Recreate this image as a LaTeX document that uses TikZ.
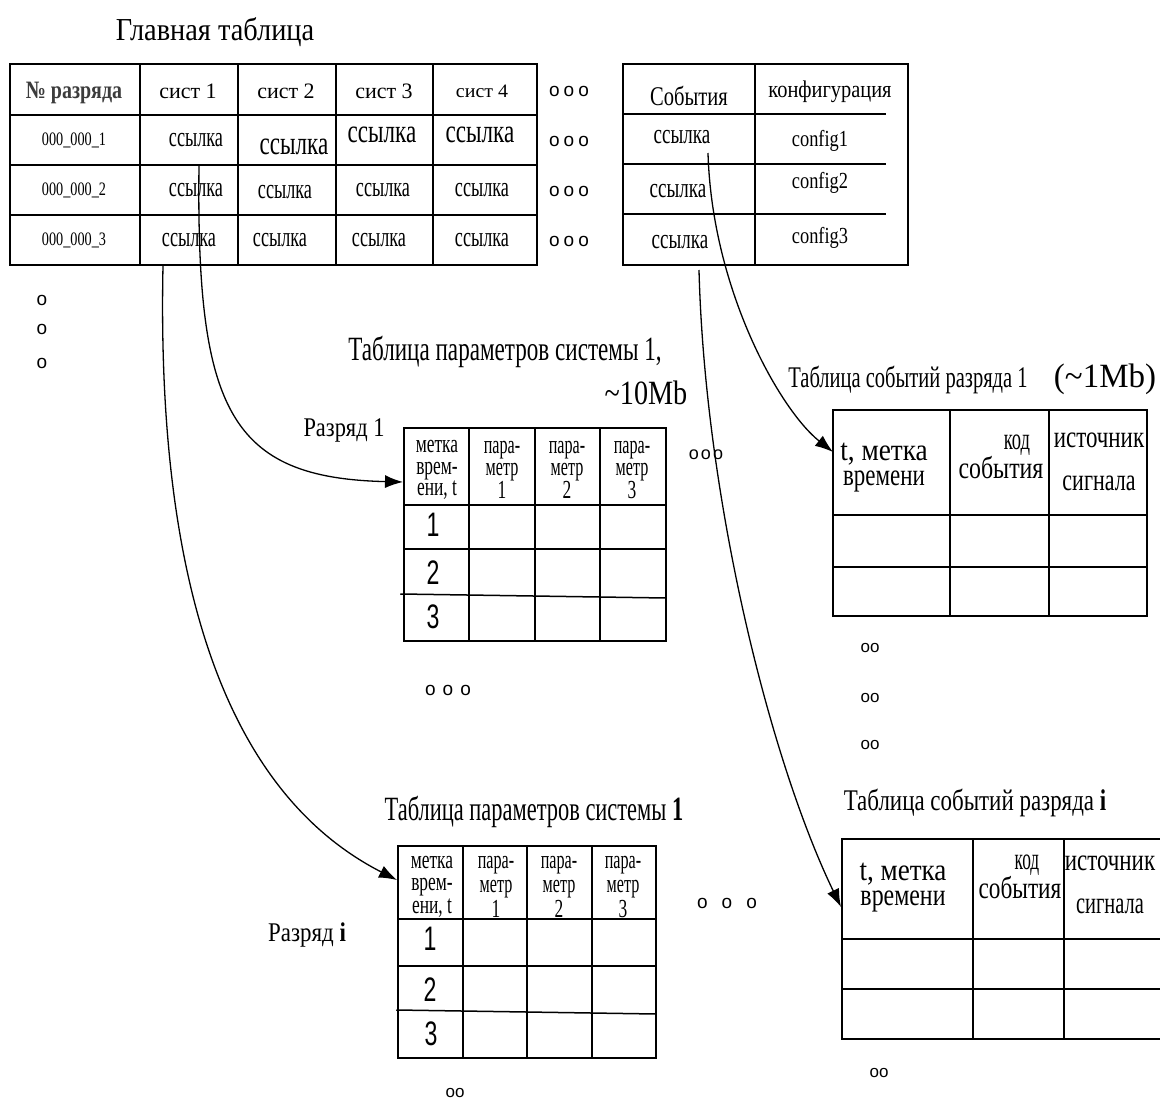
\documentclass[tikz,border=0pt]{standalone}
\usepackage{fontspec}
\usepackage{graphicx}
\setmainfont{Liberation Serif}
\newfontfamily\arfont{Liberation Sans}
\usetikzlibrary{arrows.meta}
\newcommand\mytx[3]{\scalebox{#2}[1]{\fontsize{#1}{#1}\selectfont #3}}
\newcommand\mysf[3]{\scalebox{#2}[1]{\fontsize{#1}{#1}\selectfont\arfont #3}}
\newcommand\mytab[3]{{\fontsize{#1}{#2}\selectfont\begin{tabular}{@{}c@{}}#3\end{tabular}}}
\newcommand\sx[2]{\scalebox{#1}[1]{#2}}
\definecolor{hdr}{RGB}{60,60,60}
\begin{document}
\begin{tikzpicture}[x=1pt,y=-1pt,
  tbl/.style={line width=1.5pt, line cap=rect},
  lbl/.style={inner sep=0pt},
  bl/.style={inner sep=0pt, anchor=base},
  link/.style={line width=1.3pt, -{Latex[length=18pt,width=13pt]}}]
\fill[white] (0,0) rectangle (1160,1106);
\path[use as bounding box] (0,0) rectangle (1160,1106);

% ---------- main table ----------
\node[lbl] (mtitle) at (215,32) {\mytx{32}{0.886}{Главная таблица}};
\draw[tbl] (10,64) rectangle (537,265);
\foreach \x in {140,238,336,433} \draw[tbl] (\x,64) -- (\x,265);
\foreach \y in {115,165,215} \draw[tbl] (10,\y) -- (537,\y);

\node[lbl,text=hdr] (h0) at (74,93) {\mytx{25}{0.8}{\bfseries № разряда}};
\node[lbl] (h1) at (188,91) {\mytx{22}{1}{сист 1}};
\node[lbl] (h2) at (286,91) {\mytx{22}{1}{сист 2}};
\node[lbl] (h3) at (384,91) {\mytx{22}{1}{сист 3}};
\node[lbl] (h4) at (482,91) {\mytx{19}{1.05}{сист 4}};

\node[lbl] (n1) at (74,140) {\mytx{19}{0.75}{000\_000\_1}};
\node[lbl] (n2) at (74,190) {\mytx{19}{0.75}{000\_000\_2}};
\node[lbl] (n3) at (74,240) {\mytx{19}{0.75}{000\_000\_3}};

\node[lbl] (a11) at (196,140) {\mytx{28}{0.65}{ссылка}};
\node[lbl] (a12) at (294,147) {\mytx{33}{0.7}{ссылка}};
\node[lbl] (a13) at (382,135) {\mytx{33}{0.7}{ссылка}};
\node[lbl] (a14) at (480,135) {\mytx{33}{0.7}{ссылка}};
\node[lbl] (a21) at (196,190) {\mytx{28}{0.65}{ссылка}};
\node[lbl] (a22) at (285,192) {\mytx{28}{0.65}{ссылка}};
\node[lbl] (a23) at (383,190) {\mytx{28}{0.65}{ссылка}};
\node[lbl] (a24) at (482,190) {\mytx{28}{0.65}{ссылка}};
\node[lbl] (a31) at (189,240) {\mytx{28}{0.65}{ссылка}};
\node[lbl] (a32) at (280,240) {\mytx{28}{0.65}{ссылка}};
\node[lbl] (a33) at (379,240) {\mytx{28}{0.65}{ссылка}};
\node[lbl] (a34) at (482,240) {\mytx{28}{0.65}{ссылка}};

\foreach \y/\n in {91/1,141/2,191/3,241/4}
  \node[lbl] (dd\n) at (569,\y) {\mysf{19}{1}{o\hspace{4pt}o\hspace{4pt}o}};
\node[lbl] (v1) at (42,300) {\mysf{19}{1}{o}};
\node[lbl] (v2) at (42,329) {\mysf{19}{1}{o}};
\node[lbl] (v3) at (42,363) {\mysf{19}{1}{o}};

% ---------- events / config table ----------
\draw[tbl] (623,64) -- (908,64) -- (908,265) -- (623,265) -- cycle;
\draw[tbl] (755,64) -- (755,265);
\foreach \y in {114,164,214} \draw[tbl] (623,\y) -- (885,\y);
\node[lbl] (ev) at (689,96) {\mytx{27}{0.76}{События}};
\node[lbl] (cf) at (830,92) {\mytx{24}{0.85}{конфигурация}};
\node[lbl] (l1) at (682,137) {\mytx{28}{0.68}{ссылка}};
\node[lbl] (l2) at (678,191) {\mytx{28}{0.68}{ссылка}};
\node[lbl] (l3) at (680,242) {\mytx{28}{0.68}{ссылка}};
\node[lbl] (c1) at (820,141) {\mytx{23}{0.8}{config1}};
\node[lbl] (c2) at (820,183) {\mytx{23}{0.8}{config2}};
\node[lbl] (c3) at (820,238) {\mytx{23}{0.8}{config3}};

% ---------- parameter table, digit 1 ----------
\node[lbl] (pt1) at (505,352) {\mytx{34}{0.68}{Таблица параметров системы 1,}};
\node[lbl] (pt1b) at (646,393) {\mytx{34}{0.83}{\textasciitilde 10Mb}};
\node[lbl] (r1lab) at (344,430) {\mytx{27}{0.83}{Разряд 1}};
\draw[tbl] (404,428) rectangle (666,641);
\foreach \x in {469,535,600} \draw[tbl] (\x,428) -- (\x,641);
\draw[tbl] (404,505) -- (666,505);
\draw[tbl] (404,549) -- (666,549);
\draw[tbl] (401,594) -- (666,598);
\node[lbl] (p1a) at (437,470) {\mytab{26}{21.5}{\sx{0.67}{метка}\\\sx{0.67}{врем-}\\\sx{0.67}{ени, t}}};
\foreach \x/\k in {502/1,567/2,632/3}
  \node[lbl] (p1b\k) at (\x,472) {\mytab{26}{21.5}{\sx{0.62}{пара-}\\\sx{0.62}{метр}\\\sx{0.67}{\k}}};
\node[lbl] (p1r1) at (433,525) {\mysf{34}{0.68}{1}};
\node[lbl] (p1r2) at (433,573) {\mysf{34}{0.68}{2}};
\node[lbl] (p1r3) at (433,617) {\mysf{34}{0.68}{3}};
\node[lbl] (pd1) at (706,455) {\mysf{18}{1}{o\hspace{2pt}o\hspace{2pt}o}};
\node[lbl] (pd2) at (448,690) {\mysf{19}{1}{o\hspace{7pt}o\hspace{7pt}o}};

% ---------- events table, digit 1 ----------
\node[bl] (et1) at (908,387) {\mytx{30}{0.684}{Таблица событий разряда 1}};
\node[bl] (et1b) at (1105,387) {\mytx{34}{0.97}{(\textasciitilde 1Mb)}};
\draw[tbl] (833,410) rectangle (1147,616);
\foreach \x in {950,1049} \draw[tbl] (\x,410) -- (\x,616);
\foreach \y in {515,567} \draw[tbl] (833,\y) -- (1147,\y);
\node[lbl] (e1a) at (884,467.5) {\mytab{31}{25}{\sx{0.88}{t, метка}\\\sx{0.74}{времени}}};
\node[lbl] (e1b) at (1001,459) {\mytab{31}{24}{\hspace*{32pt}\sx{0.6}{код}\\\sx{0.77}{события}}};
\node[lbl] (e1c) at (1099,460) {\mytab{31}{43}{\sx{0.74}{источник}\\\sx{0.71}{сигнала}}};
\node[lbl] (ed1) at (870,648) {\mysf{17}{1}{oo}};
\node[lbl] (ed2) at (870,698) {\mysf{17}{1}{oo}};
\node[lbl] (ed3) at (870,745) {\mysf{17}{1}{oo}};

% ---------- parameter table, digit i ----------
\node[lbl] (pti) at (534,812) {\mytx{34}{0.66}{Таблица параметров системы \textbf{1}}};
\node[lbl] (rilab) at (307,935) {\mytx{27}{0.85}{Разряд \textbf{i}}};
\draw[tbl] (398,846) rectangle (656,1058);
\foreach \x in {463,527,592} \draw[tbl] (\x,846) -- (\x,1058);
\draw[tbl] (398,919) -- (656,919);
\draw[tbl] (398,966) -- (656,966);
\draw[tbl] (397,1010) -- (656,1014);
\node[lbl] (pia) at (432,886) {\mytab{26}{22.5}{\sx{0.67}{метка}\\\sx{0.67}{врем-}\\\sx{0.67}{ени, t}}};
\foreach \x/\k in {496/1,559/2,623/3}
  \node[lbl] (pib\k) at (\x,888) {\mytab{26}{24.5}{\sx{0.62}{пара-}\\\sx{0.62}{метр}\\\sx{0.67}{\k}}};
\node[lbl] (pir1) at (430,939) {\mysf{34}{0.68}{1}};
\node[lbl] (pir2) at (430,990) {\mysf{34}{0.68}{2}};
\node[lbl] (pir3) at (431,1034) {\mysf{34}{0.68}{3}};
\node[lbl] (pidd1) at (727,903) {\mysf{19}{1}{o\hspace{14pt}o\hspace{14pt}o}};
\node[lbl] (pidd2) at (455,1093) {\mysf{17}{1}{oo}};

% ---------- events table, digit i ----------
\node[bl] (eti) at (975,810) {\mytx{30}{0.765}{Таблица событий разряда \textbf{i}}};
\draw[tbl] (1160,839) -- (842,839) -- (842,1039) -- (1160,1039);
\foreach \x in {973,1064} \draw[tbl] (\x,839) -- (\x,1039);
\foreach \y in {939,989} \draw[tbl] (842,\y) -- (1160,\y);
\node[lbl] (eia) at (903,887.5) {\mytab{31}{25}{\sx{0.875}{t, метка}\\\sx{0.77}{времени}}};
\node[lbl] (eib) at (1020,879) {\mytab{31}{23}{\hspace*{14pt}\sx{0.56}{код}\\\sx{0.75}{события}}};
\node[lbl] (eic) at (1110,883) {\mytab{31}{43}{\sx{0.74}{источник}\\\sx{0.66}{сигнала}}};
\node[lbl] (eidd) at (879,1073) {\mysf{17}{1}{oo}};

% ---------- connectors ----------
\coordinate (sD) at (199,165);
\coordinate (eD) at (403,482);
\coordinate (sC) at (163,266);
\coordinate (eC) at (397,880);
\coordinate (sA) at (708,153);
\coordinate (eA) at (833,452);
\coordinate (sB) at (699,270);
\coordinate (eB) at (841,907);
\draw[link] (sD) .. controls (196,410) and (230,478) .. (eD);
\draw[link] (sC) .. controls (155,650) and (260,810) .. (eC);
\draw[link] (sA) .. controls (712,290) and (780,410) .. (eA);
\draw[link] (sB) .. controls (705,500) and (770,760) .. (eB);
\end{tikzpicture}
\end{document}
